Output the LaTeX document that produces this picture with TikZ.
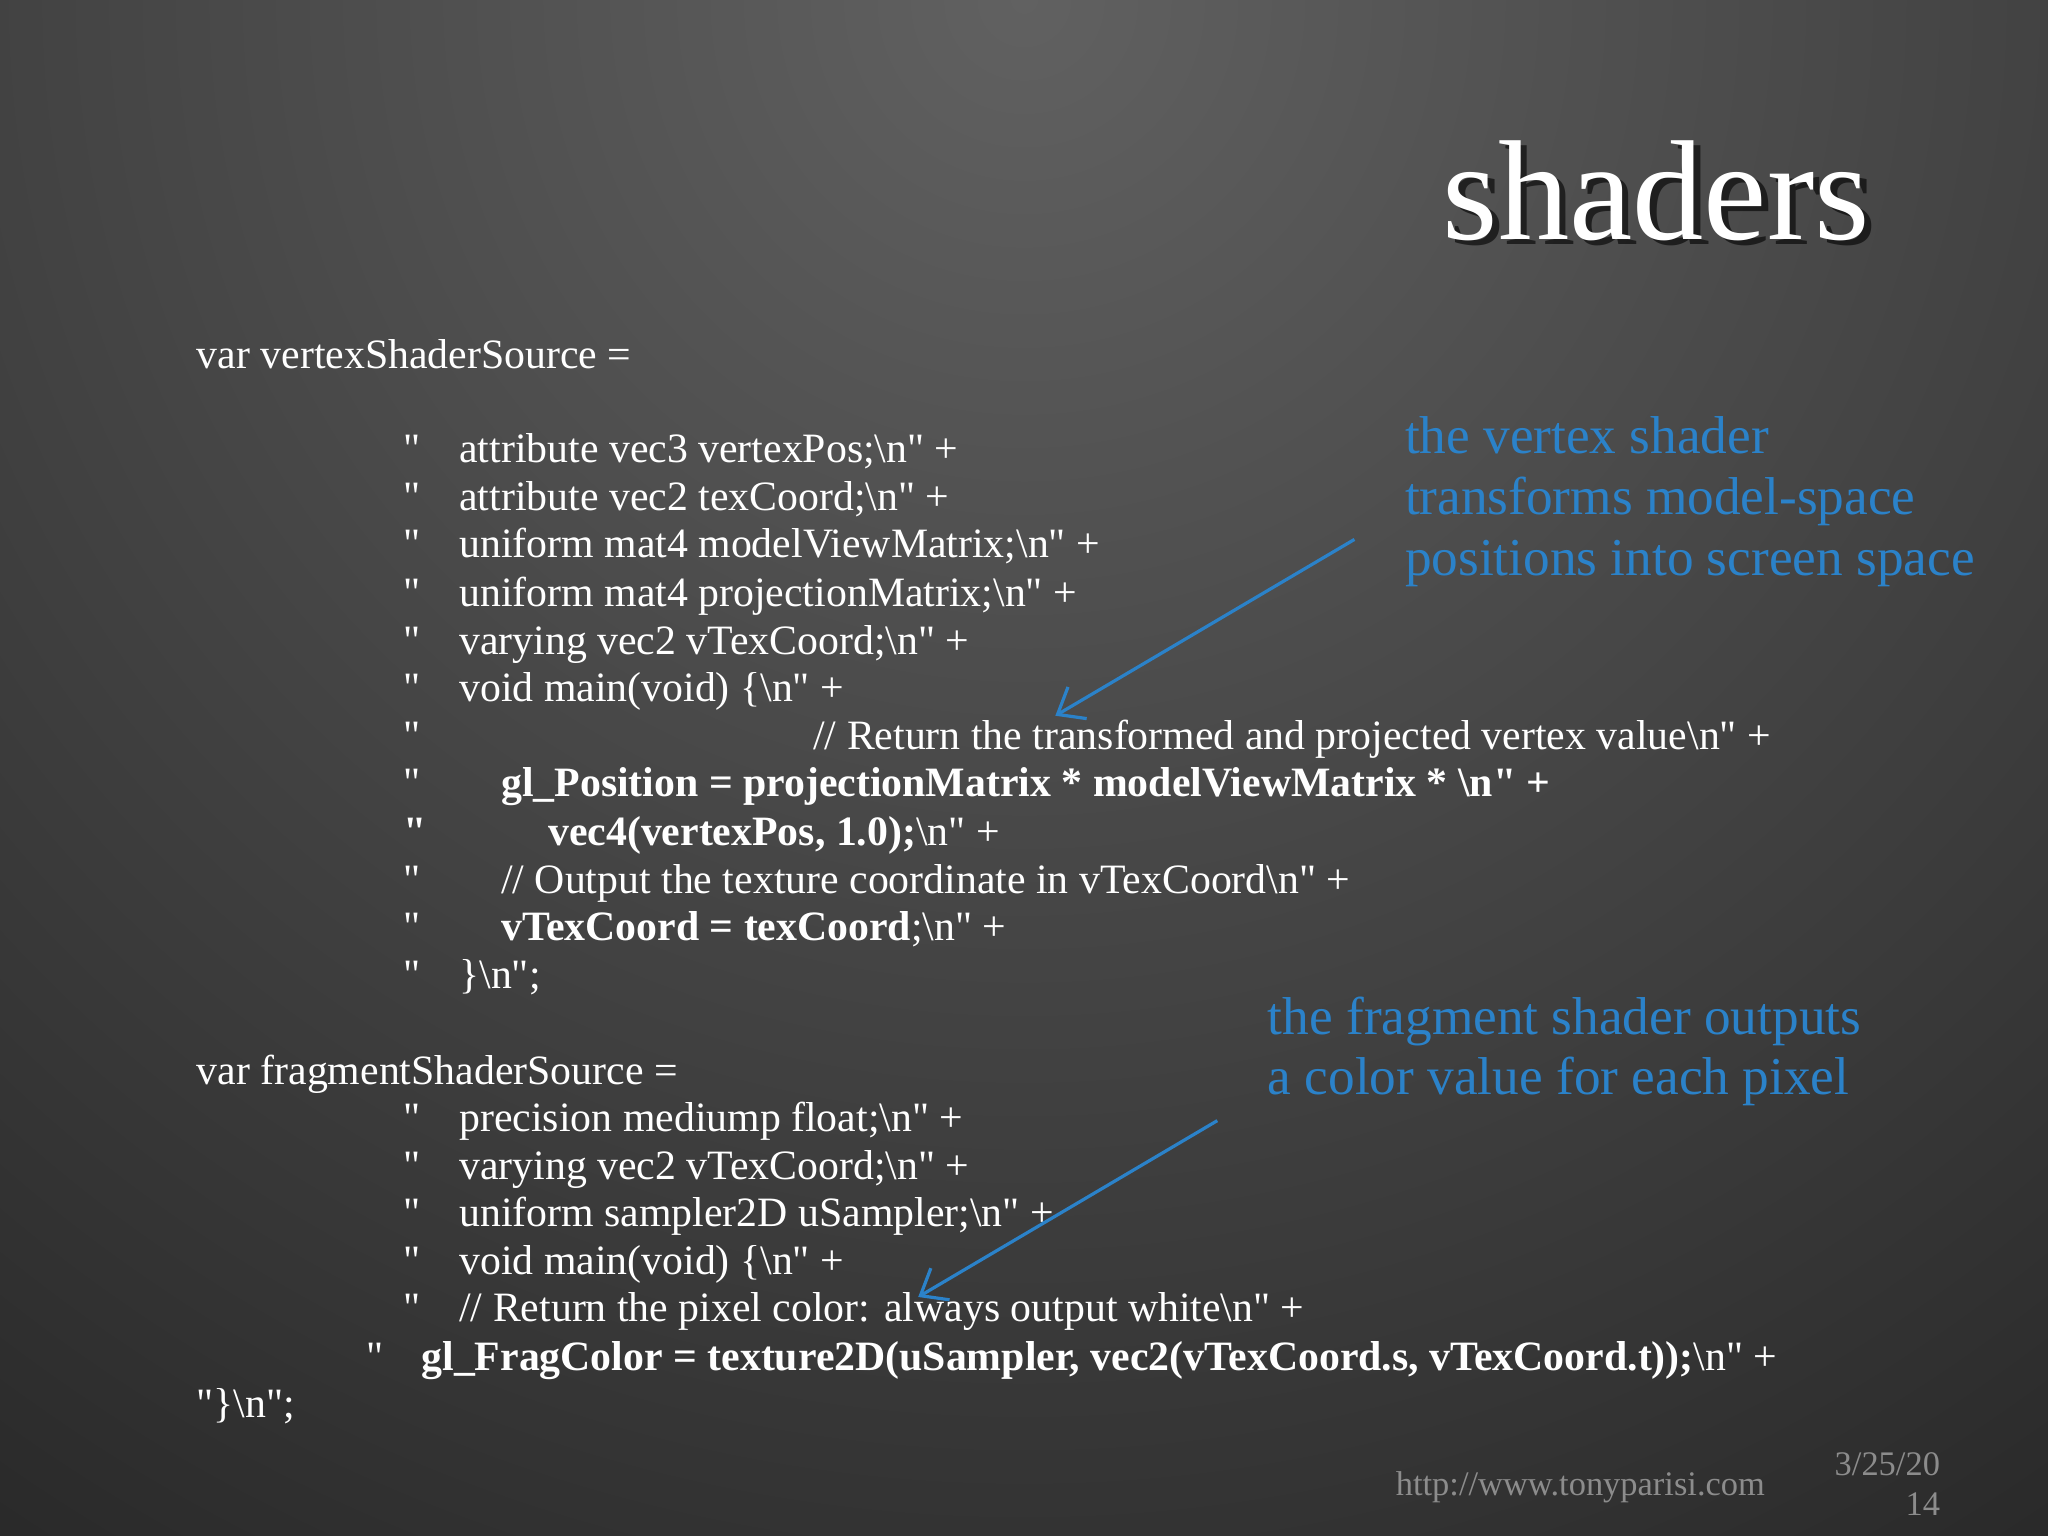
\documentclass[tikz,border=0pt]{standalone}
\usepackage{fontspec}
\setmainfont{Liberation Serif}[Ligatures=TeXOff]
\usetikzlibrary{arrows.meta}
\definecolor{anno}{HTML}{2B82C9}
\newcommand{\bs}{\textbackslash}
\newcommand{\q}{\symbol{34}}
\begin{document}
\begin{tikzpicture}[x=0.01cm,y=-0.01cm,
  code/.style={anchor=base west,inner sep=0,text=white,font=\fontsize{9.1}{10}\selectfont},
  note/.style={anchor=base west,inner sep=0,text=anno,font=\fontsize{11.6}{12}\selectfont},
  arr/.style={draw=anno,line width=0.7pt,-{Straight Barb[length=5pt,width=8pt]}}]
\useasboundingbox (0,0) rectangle (1568,1176);
\fill[black!85] (0,0) rectangle (1568,1176);
\begin{scope}
\clip (0,0) rectangle (1568,1176);
\shade[inner color=black!62,outer color=black!85] (784,0) circle (1500);
\end{scope}
\node[anchor=base west,inner sep=0,text=black,opacity=0.6,font=\fontsize{31}{33}\selectfont] at (1109,187) {shaders};
\node (title)[anchor=base west,inner sep=0,text=white,font=\fontsize{31}{33}\selectfont] at (1104,183) {shaders};
\node (v0)[code] at (150,282) {var vertexShaderSource =};
\foreach \y in {354,391,427,464,501,537,574,610,684,720,757,866,903,939,976,1012}
  \node[code] at (308,\y) {\q};
\node[code] at (308,647) {\bfseries\q};
\node[code] at (280,1049) {\q};
\node (v1)[code] at (351,354) {attribute vec3 vertexPos;\bs n\q\ +};
\node (v2)[code] at (351,391) {attribute vec2 texCoord;\bs n\q\ +};
\node (v3)[code] at (351,427) {uniform mat4 modelViewMatrix;\bs n\q\ +};
\node (v4)[code] at (351,464) {uniform mat4 projectionMatrix;\bs n\q\ +};
\node (v5)[code] at (351,501) {varying vec2 vTexCoord;\bs n\q\ +};
\node (v6)[code] at (351,537) {void main(void) \{\bs n\q\ +};
\node (v7)[code] at (622,574) {// Return the transformed and projected vertex value\bs n\q\ +};
\node (v8)[code] at (383,610) {\bfseries gl\_Position = projectionMatrix * modelViewMatrix * \bs n\q\ +};
\node (v9)[code] at (419,647) {\textbf{vec4(vertexPos, 1.0);}\bs n\q\ +};
\node (v10)[code] at (383,684) {// Output the texture coordinate in vTexCoord\bs n\q\ +};
\node (v11)[code] at (383,720) {\textbf{vTexCoord = texCoord};\bs n\q\ +};
\node (v12)[code] at (351,757) {\}\bs n\q;};
\node (f0)[code] at (150,830) {var fragmentShaderSource =};
\node (f1)[code] at (351,866) {precision mediump float;\bs n\q\ +};
\node (f2)[code] at (351,903) {varying vec2 vTexCoord;\bs n\q\ +};
\node (f3)[code] at (351,939) {uniform sampler2D uSampler;\bs n\q\ +};
\node (f4)[code] at (351,976) {void main(void) \{\bs n\q\ +};
\node (f5)[code] at (351,1012) {// Return the pixel color: always output white\bs n\q\ +};
\node (f6)[code] at (322,1049) {\textbf{gl\_FragColor = texture2D(uSampler, vec2(vTexCoord.s, vTexCoord.t));}\bs n\q\ +};
\node (f7)[code] at (150,1085) {\q\}\bs n\q;};
\node (n1)[note] at (1075,347) {the vertex shader};
\node (n2)[note] at (1075,394) {transforms model-space};
\node (n3)[note] at (1075,441) {positions into screen space};
\node (m1)[note] at (970,792) {the fragment shader outputs};
\node (m2)[note] at (970,838) {a color value for each pixel};
\coordinate (a1s) at (1037,413); \coordinate (a1e) at (808,548);
\coordinate (a2s) at (932,858); \coordinate (a2e) at (703,993);
\draw[arr] (a1s) -- (a1e);
\draw[arr] (a2s) -- (a2e);
\node (url)[anchor=base west,inner sep=0,text=black!45,font=\fontsize{7.5}{8}\selectfont] at (1068,1145) {http://www.tonyparisi.com};
\node (d1)[anchor=base east,inner sep=0,text=black!45,font=\fontsize{7.5}{8}\selectfont] at (1486,1130) {3/25/20};
\node (d2)[anchor=base east,inner sep=0,text=black!45,font=\fontsize{7.5}{8}\selectfont] at (1486,1160) {14};
\end{tikzpicture}
\end{document}
